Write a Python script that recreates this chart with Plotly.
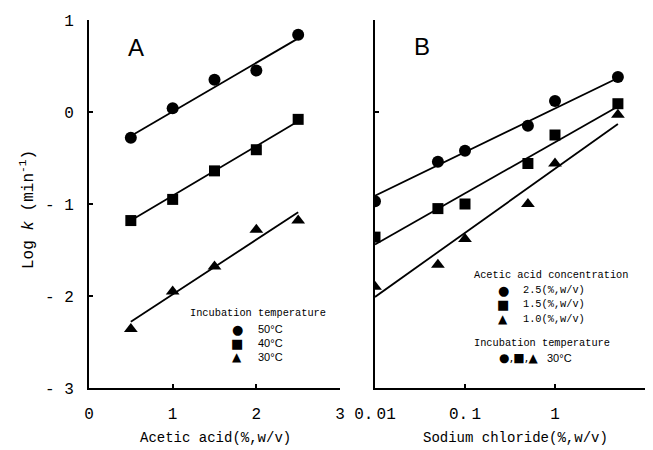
import plotly.graph_objects as go

# ---------------- data ----------------
a_x = [0.5, 1.0, 1.5, 2.0, 2.5]
a_50 = [-0.28, 0.04, 0.35, 0.45, 0.84]
a_40 = [-1.18, -0.95, -0.64, -0.41, -0.08]
a_30 = [-2.36, -1.95, -1.68, -1.28, -1.18]
a_fit_x = [0.5, 2.5]
a_fit_50 = [-0.26, 0.80]
a_fit_40 = [-1.18, -0.10]
a_fit_30 = [-2.28, -1.09]

b_x = [0.01, 0.05, 0.1, 0.5, 1, 5]
b_25 = [-0.97, -0.54, -0.42, -0.15, 0.12, 0.38]
b_15 = [-1.36, -1.05, -1.00, -0.56, -0.25, 0.09]
b_10 = [-1.90, -1.66, -1.38, -1.00, -0.56, -0.03]
b_fit_x = [0.01, 5]
b_fit_25 = [-0.91, 0.37]
b_fit_15 = [-1.44, 0.06]
b_fit_10 = [-2.01, -0.13]

y_tickvals = [1, 0, -1, -2, -3]
y_ticktext = ["1", "0", "- 1", "- 2", "- 3"]
a_xtickvals = [0, 1, 2, 3]
b_xtickvals = [0.01, 0.1, 1, 10]
b_xticktext = ["0.\u200901", "0.\u20091", "1", "10"]

MONO = "Liberation Mono"
SANS = "Liberation Sans"

fig = go.Figure()

def line(x, y, xa):
    fig.add_trace(go.Scatter(x=x, y=y, mode="lines", xaxis=xa, yaxis="y" if xa == "x" else "y2",
                             line=dict(color="black", width=1.8), showlegend=False, hoverinfo="skip"))

def pts(x, y, sym, size, xa):
    fig.add_trace(go.Scatter(x=x, y=y, mode="markers", xaxis=xa, yaxis="y" if xa == "x" else "y2",
                             marker=dict(symbol=sym, size=size, color="black", line=dict(width=0)),
                             showlegend=False))

line(a_fit_x, a_fit_50, "x")
line(a_fit_x, a_fit_40, "x")
line(a_fit_x, a_fit_30, "x")
pts(a_x, a_50, "circle", 12, "x")
pts(a_x, a_40, "square", 11, "x")
pts(a_x, a_30, "triangle-up", 12, "x")

line(b_fit_x, b_fit_25, "x2")
line(b_fit_x, b_fit_15, "x2")
line(b_fit_x, b_fit_10, "x2")
pts(b_x, b_25, "circle", 12, "x2")
pts(b_x, b_15, "square", 11, "x2")
pts(b_x, b_10, "triangle-up", 12, "x2")

W, H = 653, 450
def px(x):
    return x / W
def py(y):
    return 1 - y / H

ydom = [py(388), py(20)]
axis_common = dict(showline=True, linecolor="black", linewidth=2, ticks="inside", ticklen=4,
                   tickwidth=1.5, tickcolor="black", showgrid=False, zeroline=False,
                   automargin=False,
                   tickfont=dict(family=MONO, size=16, color="black"))

fig.update_layout(
    width=W, height=H, autosize=False,
    margin=dict(l=0, r=0, t=0, b=0),
    paper_bgcolor="white", plot_bgcolor="white",
    xaxis=dict(domain=[px(89), px(340)], range=[0, 3], tickvals=a_xtickvals,
               anchor="y", ticklabelstandoff=10, **axis_common),
    yaxis=dict(domain=ydom, range=[-3, 1], tickvals=y_tickvals, ticktext=y_ticktext,
               anchor="x", ticklabelstandoff=10, **axis_common),
    xaxis2=dict(domain=[px(375), px(645)], type="log", range=[-2, 1], tickvals=b_xtickvals,
                ticktext=b_xticktext, anchor="y2", ticklabelstandoff=10, **axis_common),
    yaxis2=dict(domain=ydom, range=[-3, 1], tickvals=[1, 0], showticklabels=False,
                anchor="x2", **axis_common),
)

ann = []
def text(x, y, s, size, family=MONO, xanchor="left", textangle=0):
    ann.append(dict(x=px(x), y=py(y), xref="paper", yref="paper", text=s, showarrow=False,
                    xanchor=xanchor, yanchor="middle", textangle=textangle,
                    font=dict(family=family, size=size, color="black")))

text(136, 47, "A", 24, SANS, "center")
text(422, 46, "B", 24, SANS, "center")
text(27, 210, "Log <i>k</i> (min<sup>-1</sup>)", 16, MONO, "center", -90)
text(215, 438, "Acetic acid(%,w/v)", 14, MONO, "center")
text(515, 438, "Sodium chloride(%,w/v)", 14, MONO, "center")

# legend A
text(188, 313, "Incubation temperature", 10.3, MONO)
text(237, 329, "●", 13, "DejaVu Sans", "center")
text(237, 343, "■", 13, "DejaVu Sans", "center")
text(237, 357, "▲", 12, "DejaVu Sans", "center")
text(256, 329, "50°C", 11, SANS)
text(256, 343, "40°C", 11, SANS)
text(256, 357, "30°C", 11, SANS)

# legend B
text(472, 275, "Acetic acid concentration", 10.3, MONO)
text(503, 290, "●", 13, "DejaVu Sans", "center")
text(503, 304, "■", 13, "DejaVu Sans", "center")
text(503, 319, "▲", 12, "DejaVu Sans", "center")
text(521, 290, "2.5(%,w/v)", 10.3, MONO)
text(521, 304, "1.5(%,w/v)", 10.3, MONO)
text(521, 319, "1.0(%,w/v)", 10.3, MONO)
text(472, 343, "Incubation temperature", 10.3, MONO)
text(497, 358, "●,■,▲", 12, "DejaVu Sans")
text(545, 358, "30°C", 11, SANS)

fig.update_layout(annotations=ann)
fig.write_html("out.html")
